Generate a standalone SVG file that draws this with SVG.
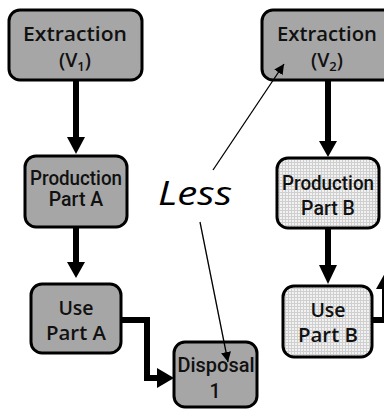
<svg xmlns="http://www.w3.org/2000/svg" width="384" height="410" viewBox="0 0 384 410">
<defs>
<pattern id="grid" width="3" height="3" patternUnits="userSpaceOnUse">
<rect width="3" height="3" fill="#f2f2f2"/>
<rect x="0" y="0" width="3" height="1" fill="#cfcfcf"/>
<rect x="0" y="0" width="1" height="3" fill="#cfcfcf"/>
</pattern>
<marker id="thin" viewBox="0 0 10 10" refX="10" refY="5" markerWidth="10" markerHeight="10" markerUnits="userSpaceOnUse" orient="auto">
<path d="M0,0 L10,5 L0,10 z" fill="#000"/>
</marker>
<style>
.box{stroke:#000;stroke-width:3;}
.dark{fill:#a6a6a6;}
.light{fill:url(#grid);}
.t{font-family:"Open Sans","DejaVu Sans",sans-serif;font-weight:600;font-size:19.5px;fill:#111;text-anchor:middle;}
.n{font-family:Roboto,"Liberation Sans",sans-serif;font-weight:500;font-size:19.5px;fill:#111;text-anchor:middle;}
.sub{font-size:13px;}
.thick{stroke:#000;stroke-width:6;fill:none;}
.head{fill:#000;}
.thinl{stroke:#000;stroke-width:1.3;fill:none;}
</style>
</defs>
<g id="extraction-v1">
<rect class="box dark" x="9" y="10" width="133" height="70" rx="11"/>
<text class="t" x="75" y="41" textLength="104" lengthAdjust="spacingAndGlyphs">Extraction</text>
<text class="t" x="75" y="67">(V<tspan class="sub" dy="4">1</tspan><tspan dy="-4">)</tspan></text>
</g>
<g id="extraction-v2">
<rect class="box dark" x="262" y="10" width="140" height="70" rx="11"/>
<text class="t" x="327" y="41" textLength="100" lengthAdjust="spacingAndGlyphs">Extraction</text>
<text class="t" x="327" y="67">(V<tspan class="sub" dy="4">2</tspan><tspan dy="-4">)</tspan></text>
</g>
<g id="production-a">
<rect class="box dark" x="25" y="156" width="102" height="71" rx="11"/>
<text class="n" x="76" y="185" textLength="92" lengthAdjust="spacingAndGlyphs">Production</text>
<text class="n" x="76" y="206">Part A</text>
</g>
<g id="production-b">
<rect class="box light" x="277" y="158" width="102" height="70" rx="11"/>
<text class="n" x="328" y="190" textLength="92" lengthAdjust="spacingAndGlyphs">Production</text>
<text class="n" x="328" y="215">Part B</text>
</g>
<g id="use-a">
<rect class="box dark" x="31" y="284" width="90" height="69" rx="11"/>
<text class="t" x="76" y="315">Use</text>
<text class="t" x="76" y="340" textLength="60" lengthAdjust="spacingAndGlyphs">Part A</text>
</g>
<g id="use-b">
<rect class="box light" x="283" y="286" width="89" height="71" rx="11"/>
<text class="t" x="328" y="317">Use</text>
<text class="t" x="328" y="342" textLength="60" lengthAdjust="spacingAndGlyphs">Part B</text>
</g>
<g id="disposal-1">
<rect class="box dark" x="174" y="342" width="83" height="65" rx="11"/>
<text class="n" x="216" y="372" textLength="77" lengthAdjust="spacingAndGlyphs">Disposal</text>
<text class="n" x="215" y="398">1</text>
</g>
<text x="158" y="205" font-family="Open Sans, DejaVu Sans, sans-serif" font-style="italic" font-size="33" fill="#000" textLength="74" lengthAdjust="spacingAndGlyphs">Less</text>
<g id="connectors">
<line class="thick" x1="76" y1="81" x2="76" y2="138"/>
<polygon class="head" points="67,137 85,137 76,154"/>
<line class="thick" x1="76" y1="228" x2="76" y2="263"/>
<polygon class="head" points="67,262 85,262 76,278"/>
<line class="thick" x1="328" y1="81" x2="328" y2="142"/>
<polygon class="head" points="319,141 337,141 328,157"/>
<line class="thick" x1="328" y1="229" x2="328" y2="266"/>
<polygon class="head" points="319,265 337,265 328,284"/>
<polyline class="thick" points="121,320 147,320 147,378 158,378"/>
<polygon class="head" points="157,368 157,388 174,378"/>
<polyline class="thick" points="372,320 385,320 385,288"/>
<polygon class="head" points="376,289 394,289 385,273"/>
<line class="thinl" x1="213" y1="170" x2="284" y2="64" marker-end="url(#thin)"/>
<line class="thinl" x1="200" y1="222" x2="228" y2="362" marker-end="url(#thin)"/>
</g>
</svg>
